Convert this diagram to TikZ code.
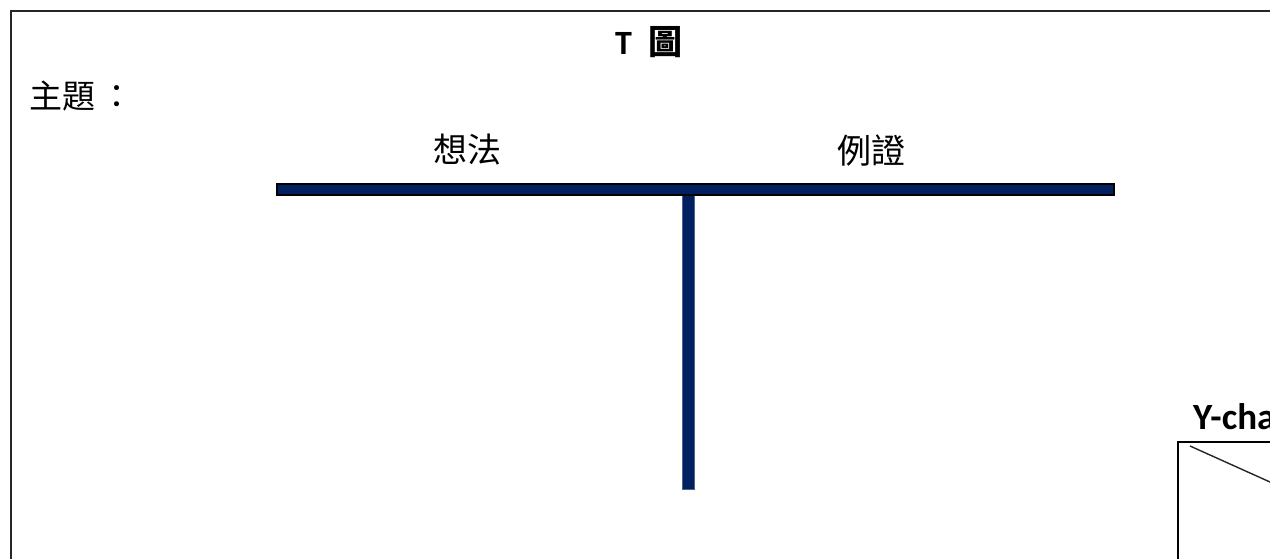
\documentclass[tikz,border=0pt]{standalone}
\usepackage{fontspec}
\setmainfont{Carlito}
\newfontfamily\cjkfont{Noto Sans CJK TC}
\usetikzlibrary{positioning}
\definecolor{navyblue}{RGB}{0,32,96}

\begin{document}
\begin{tikzpicture}[
  x=1pt, y=-1pt,
  heading/.style={inner sep=0pt, font=\cjkfont\fontsize{34}{34}\selectfont},
  tbar/.style={fill=navyblue, draw=black, line width=1.6pt},
  tstem/.style={fill=navyblue, draw=navyblue!70, line width=0.6pt},
  frame/.style={draw=black!85, line width=1.2pt}
]
\useasboundingbox (0,0) rectangle (1270,559);
\clip (0,0) rectangle (1270,559);
% page frame, runs off to the right and bottom
\draw[frame] (11,11) rectangle (1320,620);
% titles
\node[inner sep=0pt, font=\bfseries\fontsize{34}{34}\selectfont] (title) at (649,42)
  {T\hspace{17pt}{\cjkfont\bfseries 圖}};
\node[heading, anchor=west, font=\cjkfont\fontsize{33}{33}\selectfont] (topic) at (29,96) {主題\hspace{5pt}：};
\node[heading] (idea) at (467,150) {想法};
\node[heading] (proof) at (871,150) {例證};
% the T
\coordinate (barL) at (277,184);
\coordinate (barR) at (1114,195);
\coordinate (stemT) at (682.5,195);
\coordinate (stemB) at (694.5,489);
\draw[tstem] (stemT) rectangle (stemB);
\draw[tbar] (barL) rectangle (barR);
% next chart, cut off at the edge
\node[inner sep=0pt, anchor=base west, font=\bfseries\fontsize{37}{37}\selectfont] (ychart) at (1193,429) {Y-chart};
\coordinate (yboxTL) at (1178,442);
\coordinate (yboxBR) at (1400,640);
\draw[line width=1.2pt] (yboxTL) rectangle (yboxBR);
\coordinate (ydiagA) at (1190,446);
\coordinate (ydiagB) at (1330,509);
\draw[line width=1.4pt, black!85] (ydiagA) -- (ydiagB);
\end{tikzpicture}
\end{document}
